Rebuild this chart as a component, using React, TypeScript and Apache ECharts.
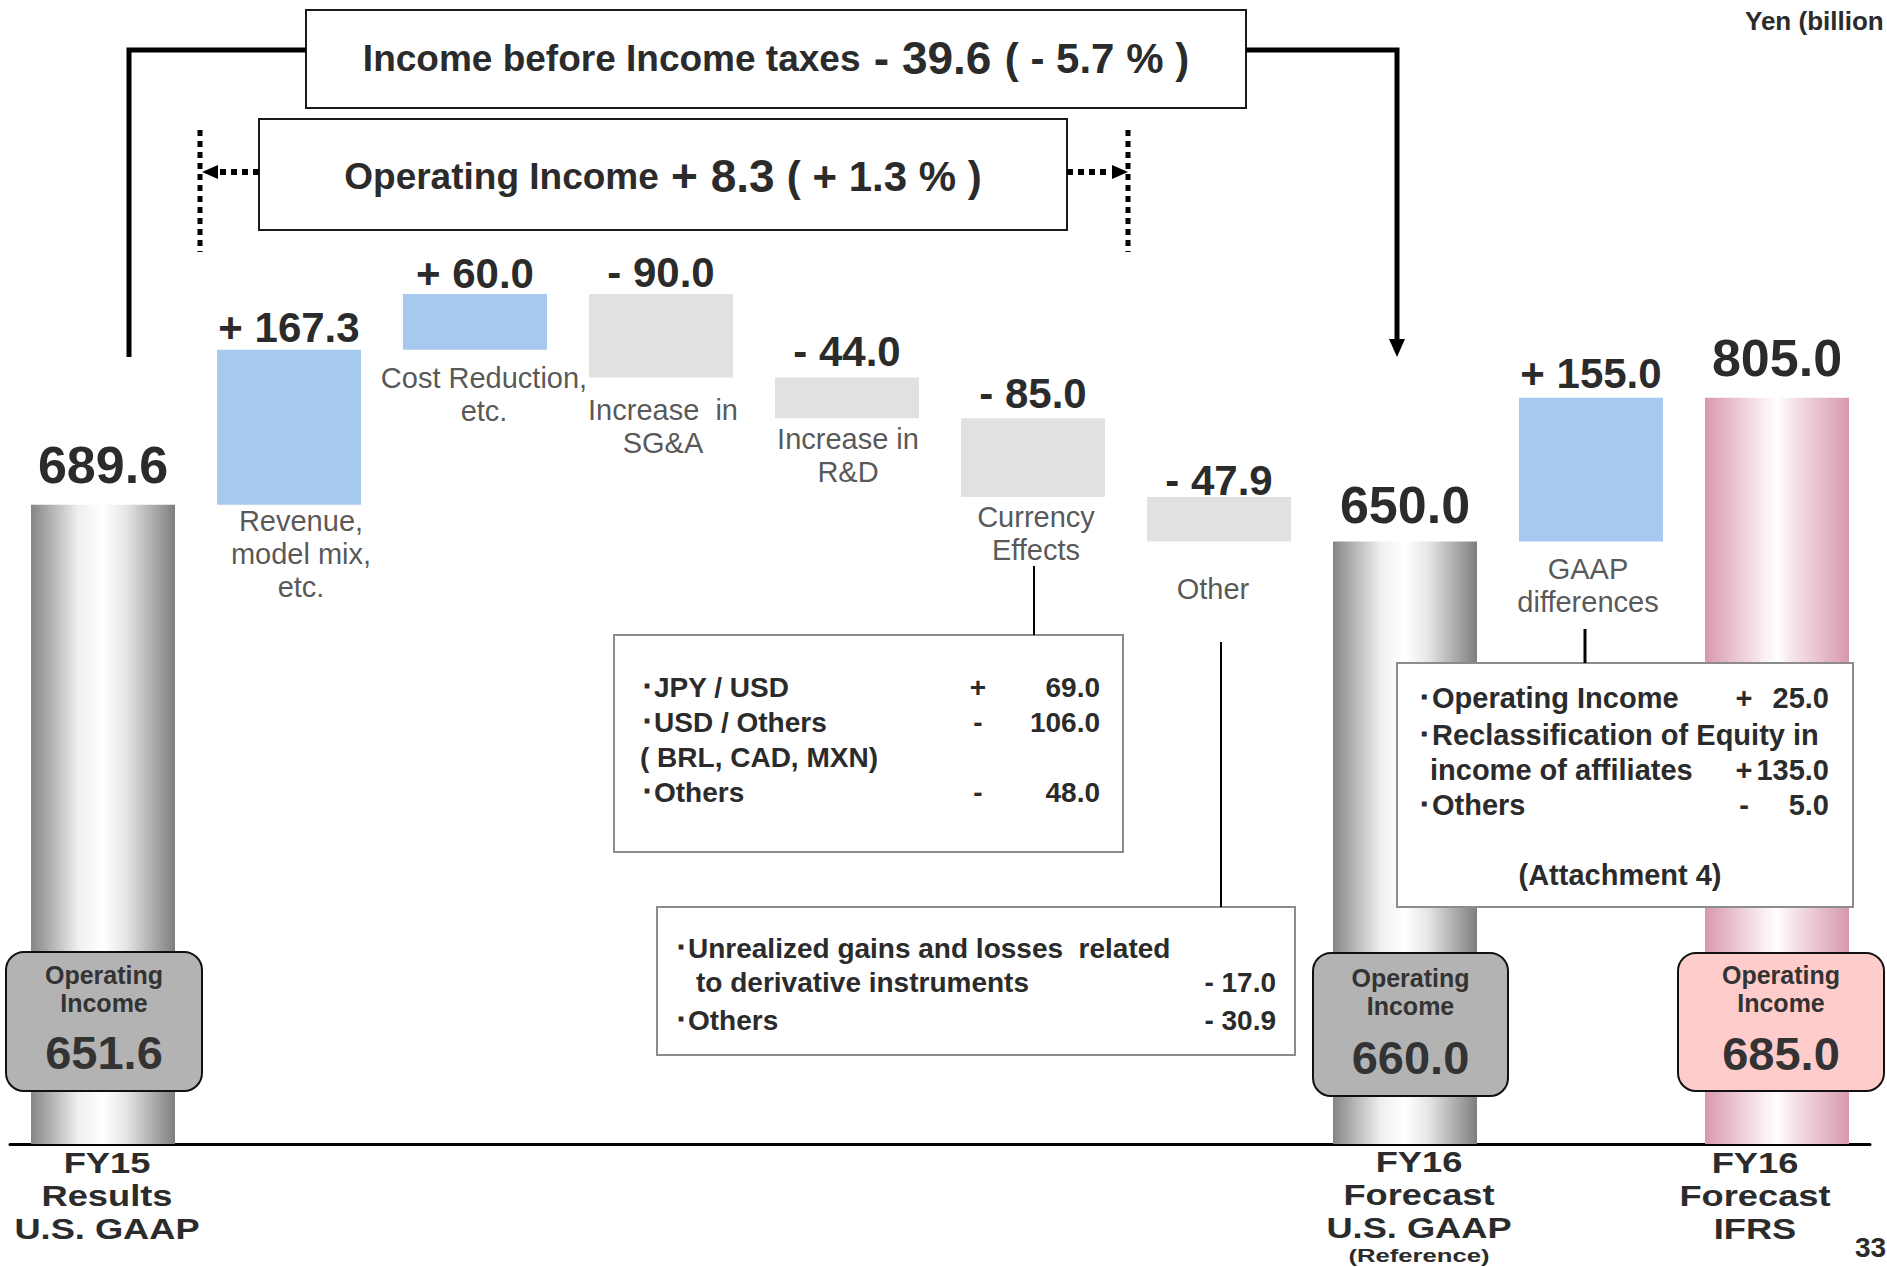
import React, { useEffect, useRef } from 'react';
import * as echarts from 'echarts';

const FONT = 'Liberation Sans, Arial, sans-serif';
const INK = '#2b2b2b';

// ---------------- data ----------------
const categories = [
  'FY15 Results U.S. GAAP',
  'Revenue, model mix, etc.',
  'Cost Reduction, etc.',
  'Increase in SG&A',
  'Increase in R&D',
  'Currency Effects',
  'Other',
  'FY16 Forecast U.S. GAAP (Reference)',
  'GAAP differences',
  'FY16 Forecast IFRS',
];
const values = [689.6, 167.3, 60.0, -90.0, -44.0, -85.0, -47.9, 650.0, 155.0, 805.0];
const barKinds = ['usgaap', 'delta', 'delta', 'delta', 'delta', 'delta', 'delta', 'usgaap', 'delta', 'ifrs'];
const axisLabelLines = [
  ['FY15', 'Results', 'U.S. GAAP'], [], [], [], [], [], [],
  ['FY16', 'Forecast', 'U.S. GAAP'], [], ['FY16', 'Forecast', 'IFRS'],
];
const axisLabelNotes = ['', '', '', '', '', '', '', '(Reference)', '', ''];
const descriptions = [
  '', 'Revenue,\nmodel mix,\netc.', 'Cost Reduction,\netc.', 'Increase  in\nSG&A', 'Increase in\nR&D',
  'Currency\nEffects', 'Other', '', 'GAAP\ndifferences', '',
];

const headlineTaxes = ['Income before Income taxes', '- 39.6', '( - 5.7 % )'];
const headlineOperating = ['Operating Income', '+ 8.3', '( + 1.3 % )'];
const opIncomeTitle = ['Operating', 'Income'];
const opIncomeValues = ['651.6', '660.0', '685.0'];

const currencyLabels = ['･JPY / USD', '･USD / Others', '( BRL, CAD, MXN)', '･Others'];
const currencySigns = ['+', '-', '', '-'];
const currencyValues = ['69.0', '106.0', '', '48.0'];

const otherLabels = ['･Unrealized gains and losses  related', 'to derivative instruments', '･Others'];
const otherValues = ['', '- 17.0', '- 30.9'];

const gaapLabels = ['･Operating Income', '･Reclassification of Equity in', 'income of affiliates', '･Others'];
const gaapSigns = ['+', '', '+', '-'];
const gaapValues = ['25.0', '', '135.0', '5.0'];
const gaapNote = '(Attachment 4)';

const unitText = 'Yen (billion';
const pageNo = '33';

// ---------------- layout / style (not data) ----------------
const totalLabelDist = [14, 0, 0, 0, 0, 0, 0, 10, 0, 14];
const deltaLabelDist = [0, 1, 0, 1, 5, 4, -4, 0, 3, 0];
const descDist = [0, -1, 11, 16, 4, 3, 31, 0, 11, 0];
const descDx = [0, 12, 9, 2, 1, 3, -6, 0, -3, 0];
const descLineH = 33;
// category caption placement: [centerX, first line centerY, line step], note centerY
const captionPos: Record<number, { x: number; y: number; note?: number }> = {
  0: { x: 107, y: 1163 },
  7: { x: 1419, y: 1162, note: 1256 },
  9: { x: 1755, y: 1163 },
};

const grayGrad = {
  type: 'linear', x: 0, y: 0, x2: 1, y2: 0,
  colorStops: [
    { offset: 0, color: '#858585' },
    { offset: 0.33, color: '#efefef' },
    { offset: 0.5, color: '#ffffff' },
    { offset: 0.66, color: '#e6e6e6' },
    { offset: 1, color: '#7e7e7e' },
  ],
};
const pinkGrad = {
  type: 'linear', x: 0, y: 0, x2: 1, y2: 0,
  colorStops: [
    { offset: 0, color: '#d898af' },
    { offset: 0.38, color: '#f8e8ee' },
    { offset: 0.5, color: '#ffffff' },
    { offset: 0.62, color: '#f5e2e9' },
    { offset: 1, color: '#d898af' },
  ],
};

function buildOption() {
  const bases: number[] = [];
  const heights: number[] = [];
  let running = 0;
  values.forEach((v, i) => {
    if (barKinds[i] !== 'delta') {
      bases.push(0); heights.push(v); running = v;
    } else if (v >= 0) {
      bases.push(running); heights.push(v); running += v;
    } else {
      bases.push(running + v); heights.push(-v); running += v;
    }
  });
  const labelText = values.map((v, i) =>
    barKinds[i] === 'delta' ? (v >= 0 ? '+ ' : '- ') + Math.abs(v).toFixed(1) : v.toFixed(1));

  const visible = heights.map((h, i) => {
    const k = barKinds[i];
    const color = k === 'usgaap' ? grayGrad : k === 'ifrs' ? pinkGrad : values[i] >= 0 ? '#a8c9ef' : '#e1e1e1';
    const isDelta = k === 'delta';
    return {
      value: h,
      itemStyle: { color },
      label: {
        distance: isDelta ? deltaLabelDist[i] : totalLabelDist[i],
        fontSize: isDelta ? 42 : 52,
        lineHeight: isDelta ? 42 : 52,
      },
    };
  });

  const descData: any[] = [];
  descriptions.forEach((d, i) => {
    if (!d) return;
    descData.push({
      name: d,
      value: [i, bases[i]],
      label: { distance: descDist[i], offset: [descDx[i], 0] },
    });
  });

  const g: any[] = [];
  const rect = (x: number, y: number, w: number, h: number, style: any, r = 0) =>
    g.push({ type: 'rect', z: 20, shape: { x, y, width: w, height: h, r }, style });
  const line = (x1: number, y1: number, x2: number, y2: number, lineWidth = 2, lineDash?: number[]) =>
    g.push({ type: 'line', z: 21, shape: { x1, y1, x2, y2 }, style: { stroke: '#000', lineWidth, lineDash } });
  const poly = (points: number[][]) =>
    g.push({ type: 'polygon', z: 21, shape: { points }, style: { fill: '#000' } });
  const text = (x: number, y: number, t: string, size: number, align = 'left', extra: any = {}, el: any = {}) =>
    g.push({
      type: 'text', z: 22, x, y, ...el,
      style: {
        text: t, fontSize: size, fontWeight: 'bold', fontFamily: FONT, fill: INK,
        align, textAlign: align, verticalAlign: 'middle', textVerticalAlign: 'middle', ...extra,
      },
    });

  // headline boxes
  rect(306, 10, 940, 98, { fill: '#fff', stroke: '#1a1a1a', lineWidth: 2 });
  text(776, 58, `{a|${headlineTaxes[0]}} {b|${headlineTaxes[1]}} {c|${headlineTaxes[2]}}`, 48, 'center', {
    rich: {
      a: { fontSize: 37, fontWeight: 'bold', fontFamily: FONT, fill: INK },
      b: { fontSize: 46, fontWeight: 'bold', fontFamily: FONT, fill: INK },
      c: { fontSize: 42, fontWeight: 'bold', fontFamily: FONT, fill: INK },
    },
  });
  rect(259, 119, 808, 111, { fill: '#fff', stroke: '#1a1a1a', lineWidth: 2 });
  text(663, 176, `{a|${headlineOperating[0]}} {b|${headlineOperating[1]}} {c|${headlineOperating[2]}}`, 44, 'center', {
    rich: {
      a: { fontSize: 37, fontWeight: 'bold', fontFamily: FONT, fill: INK },
      b: { fontSize: 46, fontWeight: 'bold', fontFamily: FONT, fill: INK },
      c: { fontSize: 42, fontWeight: 'bold', fontFamily: FONT, fill: INK },
    },
  });

  // dotted markers and arrows
  line(200, 130, 200, 252, 5, [6, 5]);
  line(1128, 130, 1128, 252, 5, [6, 5]);
  line(259, 172, 217, 172, 6, [6, 5]);
  poly([[202, 172], [218, 165], [218, 179]]);
  line(1067, 172, 1111, 172, 6, [6, 5]);
  poly([[1128, 172], [1112, 165], [1112, 179]]);

  // solid bracket
  g.push({ type: 'polyline', z: 21, shape: { points: [[129, 357], [129, 50], [306, 50]] }, style: { stroke: '#000', lineWidth: 5, fill: null } });
  g.push({ type: 'polyline', z: 21, shape: { points: [[1246, 50], [1397, 50], [1397, 342]] }, style: { stroke: '#000', lineWidth: 5, fill: null } });
  poly([[1397, 357], [1389, 339], [1405, 339]]);

  // unit and page
  text(1745, 21, unitText, 26);
  text(1855, 1247, pageNo, 28);

  // category captions under the baseline
  Object.keys(captionPos).forEach((key) => {
    const idx = Number(key);
    const p = captionPos[idx];
    axisLabelLines[idx].forEach((l, j) => {
      text(p.x, p.y + j * 33, l, 29, 'center', {}, { scaleX: 1.25 });
    });
    if (axisLabelNotes[idx] && p.note) {
      text(p.x, p.note, axisLabelNotes[idx], 19, 'center', {}, { scaleX: 1.35 });
    }
  });

  // operating income badges
  const badges = [
    { x: 6, y: 952, w: 196, h: 139, fill: '#b3b3b3', ys: [975, 1003, 1052] },
    { x: 1313, y: 953, w: 195, h: 143, fill: '#b3b3b3', ys: [978, 1006, 1057] },
    { x: 1678, y: 953, w: 206, h: 138, fill: '#ffcccc', ys: [975, 1003, 1053] },
  ];
  badges.forEach((b, i) => {
    rect(b.x, b.y, b.w, b.h, { fill: b.fill, stroke: '#111', lineWidth: 2 }, 18);
    const cx = b.x + b.w / 2;
    text(cx, b.ys[0], opIncomeTitle[0], 25, 'center', { fill: '#333' });
    text(cx, b.ys[1], opIncomeTitle[1], 25, 'center', { fill: '#333' });
    text(cx, b.ys[2], opIncomeValues[i], 47, 'center', { fill: '#333' });
  });

  // currency breakdown
  line(1034, 566, 1034, 635, 2);
  rect(614, 635, 509, 217, { fill: '#fff', stroke: '#8c8c8c', lineWidth: 2 });
  const curY = [687, 722, 757, 792];
  currencyLabels.forEach((t, i) => {
    text(640, curY[i], t, 28);
    if (currencySigns[i]) text(978, curY[i], currencySigns[i], 28, 'center');
    if (currencyValues[i]) text(1100, curY[i], currencyValues[i], 28, 'right');
  });

  // other breakdown
  line(1221, 642, 1221, 907, 2);
  rect(657, 907, 638, 148, { fill: '#fff', stroke: '#8c8c8c', lineWidth: 2 });
  const othY = [948, 982, 1020];
  const othX = [674, 696, 674];
  otherLabels.forEach((t, i) => {
    text(othX[i], othY[i], t, 28);
    if (otherValues[i]) text(1276, othY[i], otherValues[i], 28, 'right');
  });

  // GAAP breakdown
  line(1585, 629, 1585, 663, 3);
  rect(1397, 663, 456, 244, { fill: '#fff', stroke: '#8c8c8c', lineWidth: 2 });
  const gY = [698, 735, 770, 805];
  const gX = [1417, 1417, 1430, 1417];
  gaapLabels.forEach((t, i) => {
    text(gX[i], gY[i], t, 29);
    if (gaapSigns[i]) text(1744, gY[i], gaapSigns[i], 29, 'center');
    if (gaapValues[i]) text(1829, gY[i], gaapValues[i], 29, 'right');
  });
  text(1620, 875, gaapNote, 29, 'center');

  return {
    animation: false,
    textStyle: { fontFamily: FONT },
    grid: { left: 10, right: 17, top: 217, bottom: 123, containLabel: false },
    xAxis: {
      type: 'category',
      data: categories,
      axisTick: { show: false },
      axisLine: { lineStyle: { color: '#000', width: 3 } },
      axisLabel: { show: false },
    },
    yAxis: {
      type: 'value', min: 0, max: 1000, show: false,
      splitLine: { show: false },
    },
    series: [
      {
        type: 'bar', stack: 'w', barWidth: 144, silent: true,
        itemStyle: { color: 'transparent' },
        data: bases,
      },
      {
        type: 'bar', stack: 'w', barWidth: 144, silent: true,
        label: {
          show: true, position: 'top', fontWeight: 'bold', color: INK, fontFamily: FONT,
          formatter: (p: any) => labelText[p.dataIndex],
        },
        data: visible,
      },
      {
        type: 'scatter', symbolSize: 1, silent: true,
        itemStyle: { color: 'transparent' },
        label: {
          show: true, position: 'bottom', formatter: '{b}', fontSize: 29, color: INK,
          fontFamily: FONT, align: 'center', lineHeight: descLineH,
        },
        data: descData,
      },
    ],
    graphic: { elements: g },
  };
}

export default function App() {
  const ref = useRef<HTMLDivElement>(null);
  useEffect(() => {
    if (!ref.current) return;
    const chart = echarts.init(ref.current, undefined, { renderer: 'svg' });
    chart.setOption(buildOption() as any);
    return () => chart.dispose();
  }, []);
  return (
    <div
      ref={ref}
      style={{ position: 'absolute', left: 0, top: 0, width: 1887, height: 1267, background: '#fff' }}
    />
  );
}
